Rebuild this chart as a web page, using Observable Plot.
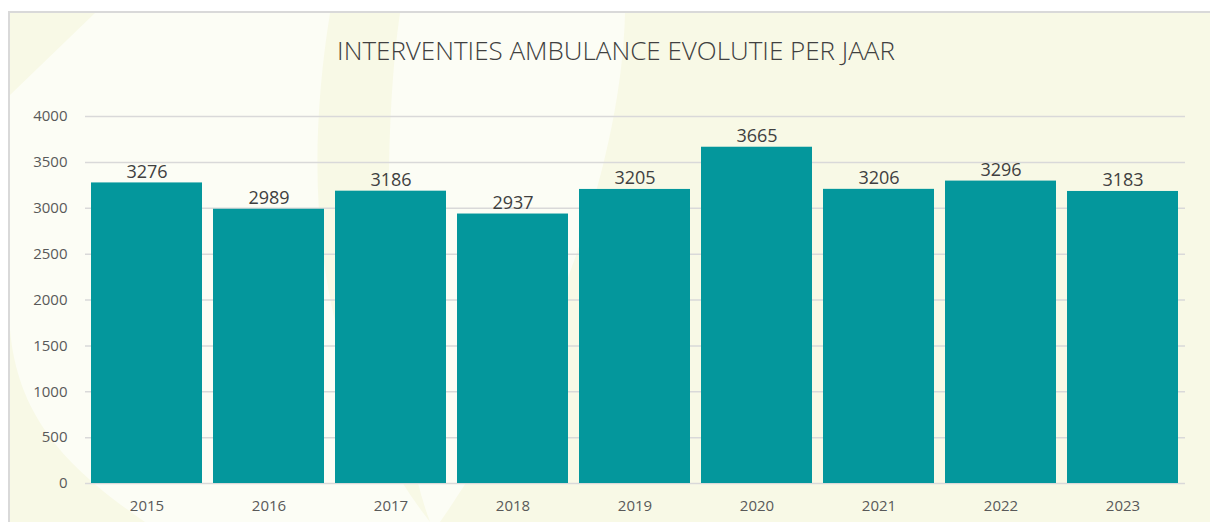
<!DOCTYPE html>
<html>
<head>
<meta charset="utf-8">
<script src="https://cdn.jsdelivr.net/npm/d3@7"></script>
<script src="https://cdn.jsdelivr.net/npm/@observablehq/plot@0.6"></script>
<style>
  html, body { margin: 0; padding: 0; background: #ffffff; overflow: hidden; }
  #page { position: relative; width: 1210px; height: 522px; overflow: hidden; }
  #frame { position: absolute; left: 8px; top: 11px; width: 1220px; height: 530px;
           border-left: 2px solid #d9d9d9; border-top: 2px solid #d9d9d9; box-sizing: border-box;
           background: #f8f9e6; overflow: hidden; }
  #deco { position: absolute; left: 0; top: 0; }
  #title { position: absolute; left: 0; width: 1232px; top: 37px; text-align: center;
           font-family: "Open Sans", sans-serif; font-weight: 300; font-size: 26px; line-height: 26px;
           color: #404040; white-space: nowrap; }
  #chart { position: absolute; left: 0; top: 0; }
</style>
</head>
<body>
<div id="page">
  <div id="frame"></div>
  <svg id="deco" width="1210" height="522">
    <path d="M 95 13 L 330 13 C 300 200, 320 380, 430 522 L 145 522 C 70 470, 18 420, 10 330 L 10 95 Z" fill="#fcfdf5"/>
    <path d="M 400 13 L 625 13 C 622 150, 560 350, 440 522 L 430 522 C 385 400, 380 150, 400 13 Z" fill="#fcfdf5"/>
  </svg>
  <div id="title">INTERVENTIES AMBULANCE EVOLUTIE PER JAAR</div>
  <div id="chart"></div>
</div>
<script>
const years = ["2015", "2016", "2017", "2018", "2019", "2020", "2021", "2022", "2023"];
const values = [3276, 2989, 3186, 2937, 3205, 3665, 3206, 3296, 3183];
const yTicks = [0, 500, 1000, 1500, 2000, 2500, 3000, 3500, 4000];

const data = years.map((year, i) => ({year, value: values[i]}));

const chart = Plot.plot({
  width: 1210,
  height: 522,
  marginLeft: 85,
  marginRight: 25,
  marginTop: 116,
  marginBottom: 39,
  style: {background: "transparent", fontFamily: "'Open Sans', sans-serif", overflow: "visible"},
  x: {domain: years, paddingInner: 0.09, paddingOuter: 0.045, label: null},
  y: {domain: [0, 4000], label: null},
  marks: [
    Plot.gridY(yTicks, {stroke: "#d9d9d9", strokeOpacity: 1, strokeWidth: 1.5}),
    Plot.barY(data, {x: "year", y: "value", fill: "#04979c"}),
    Plot.text(data, {x: "year", y: "value", text: d => String(d.value), lineAnchor: "bottom", dy: -5,
                     fontSize: 18, fill: "#404040"}),
    Plot.axisX({tickSize: 0, tickPadding: 17, fontSize: 15, fill: "#595959", label: null}),
    Plot.axisY(yTicks, {tickSize: 0, tickPadding: 18, fontSize: 15, fill: "#595959", label: null,
                        tickFormat: d => String(d)})
  ]
});
document.getElementById("chart").appendChild(chart);
</script>
</body>
</html>
